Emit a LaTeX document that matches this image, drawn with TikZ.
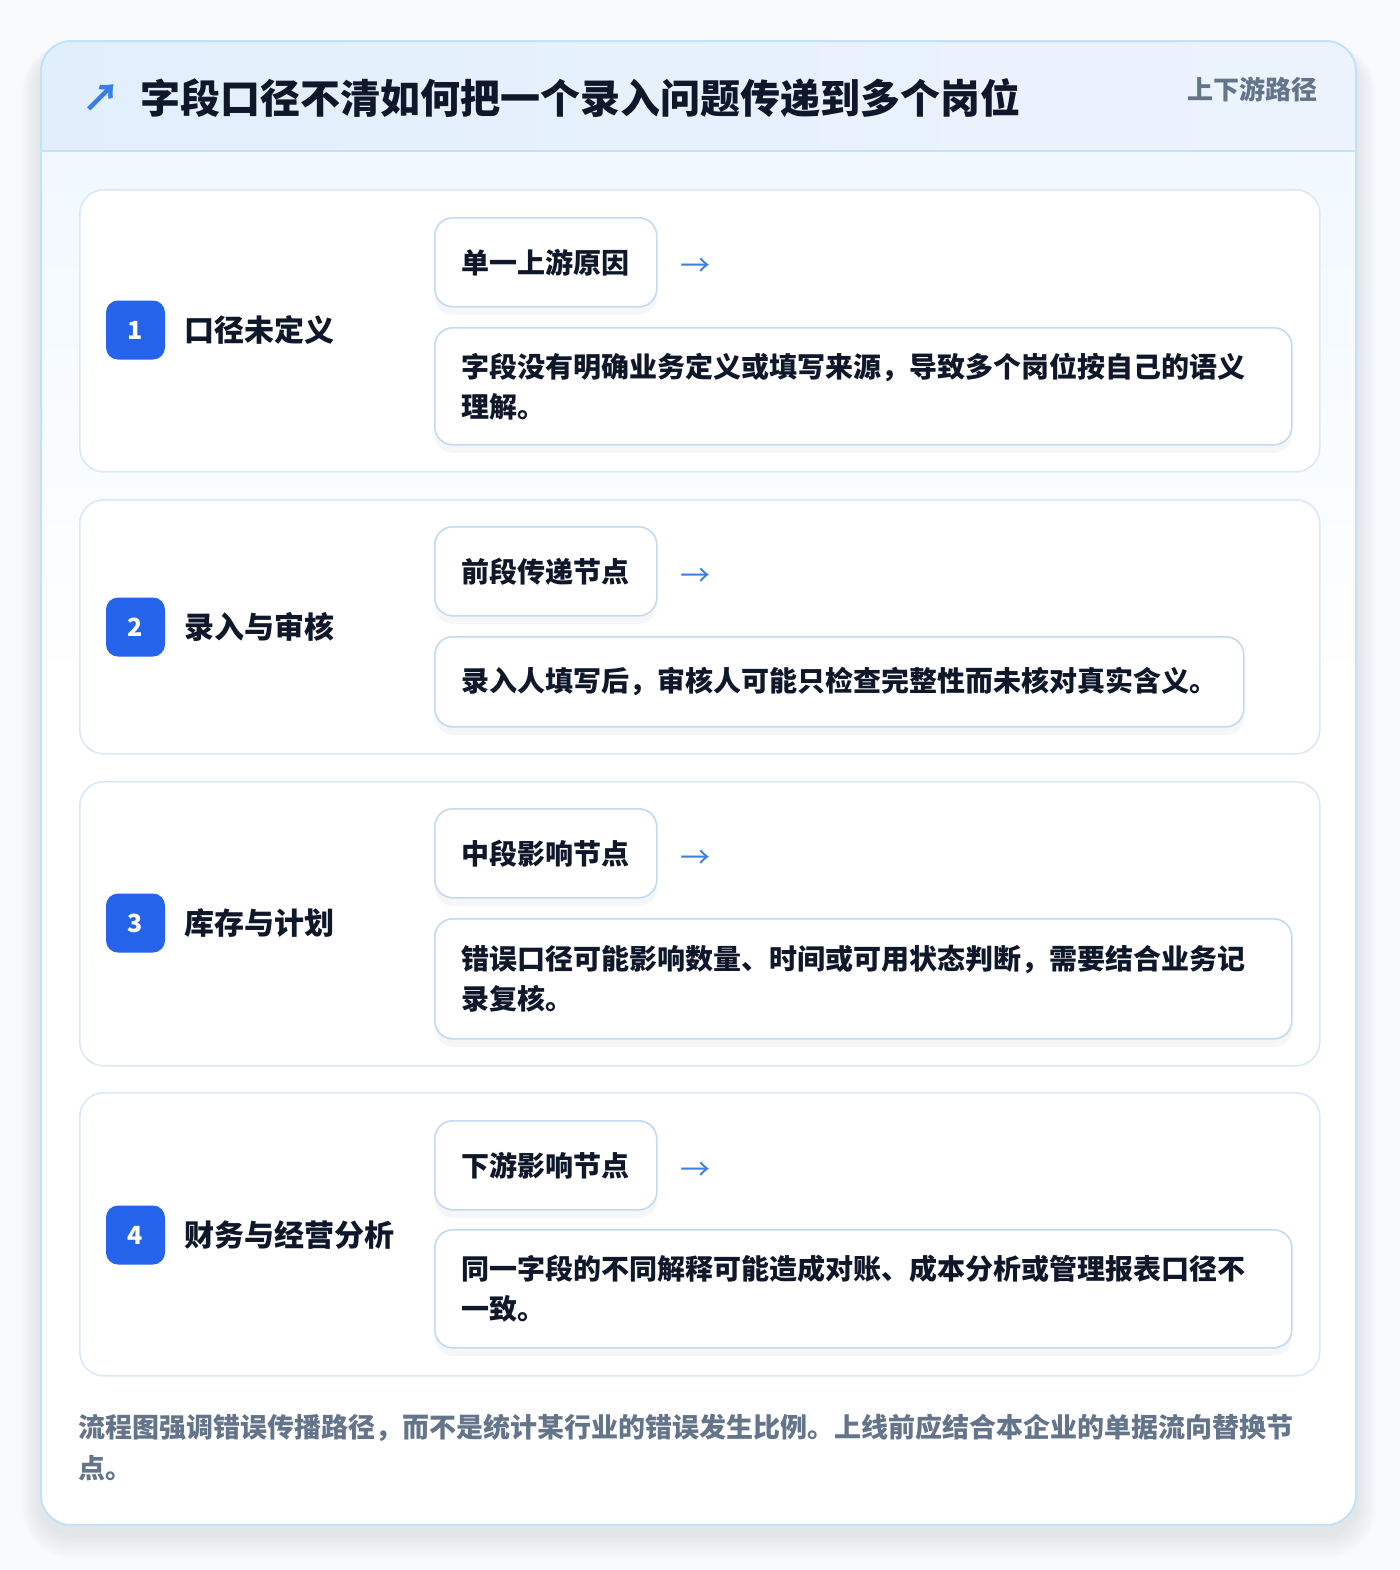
\documentclass[tikz,border=0pt]{standalone}
\usepackage{fontspec}
\setmainfont{Noto Sans CJK SC Black}
\newfontfamily\symfont{Noto Sans CJK SC}
\usetikzlibrary{positioning}
\definecolor{pagebg}{HTML}{F9FAFC}
\definecolor{cardline}{HTML}{C4E1F6}
\definecolor{headtop}{HTML}{E1EFFC}
\definecolor{headright}{HTML}{ECF3FD}
\definecolor{bodytop}{HTML}{F1F8FF}
\definecolor{rowline}{HTML}{D9E9F8}
\definecolor{boxline}{HTML}{C3DAF3}
\definecolor{badgeblue}{HTML}{2563EB}
\definecolor{arrowblue}{HTML}{3B7DE8}
\definecolor{inktext}{HTML}{0F172A}
\definecolor{mutetext}{HTML}{64748B}
\definecolor{shadowgray}{HTML}{475569}
\tikzset{
  rowbox/.style={draw=rowline, fill=white, line width=0.8pt, rounded corners=12pt,
    minimum width=620pt, anchor=north west, inner sep=0pt},
  badge/.style={fill=badgeblue, rounded corners=6pt, minimum size=29.5pt, inner sep=0pt,
    text=white, font=\fontsize{12.5}{12.5}\selectfont},
  stagename/.style={inner sep=0pt, text=inktext, font=\fontsize{15}{15}\selectfont},
  tagbox/.style={draw=boxline, fill=white, line width=0.8pt, rounded corners=9pt,
    minimum height=44.5pt, inner xsep=13.5pt, inner ysep=0pt, anchor=north west,
    text=inktext, font=\fontsize{14}{20}\selectfont,
    preaction={fill=shadowgray, fill opacity=0.05, transform canvas={yshift=-4pt}}},
  notebox/.style={tagbox, align=left},
  flowarrow/.style={inner sep=0pt, text=arrowblue, font=\symfont\fontsize{15}{15}\selectfont},
}
\begin{document}
\begin{tikzpicture}[x=0.5pt, y=-0.5pt]
  \useasboundingbox (0,0) rectangle (1400,1570);
  \fill[pagebg] (0,0) rectangle (1400,1570);
  % Card shadow
  \foreach \s in {1,...,10}
    \fill[shadowgray, opacity=0.012, rounded corners=15pt+\s pt]
      (41-2*\s,41-\s+12) rectangle (1356+2*\s,1525+2.5*\s+8);
  % Card
  \begin{scope}
    \clip[rounded corners=15pt] (41,41) rectangle (1356,1525);
    \fill[white] (41,41) rectangle (1356,1525);
    \shade[top color=bodytop, bottom color=white] (41,151) rectangle (1356,700);
    \shade[left color=headtop, right color=headright] (41,41) rectangle (1356,151);
    \draw[cardline, line width=0.8pt] (41,151) -- (1356,151);
  \end{scope}
  \draw[cardline, line width=1pt, rounded corners=15pt] (41,41) rectangle (1356,1525);
  % Header
  \node[inner sep=0pt, text=arrowblue, font=\fontsize{19}{19}\selectfont] (mark) at (102,98) {↗};
  \node[inner sep=0pt, anchor=west, text=inktext, font=\fontsize{20}{20}\selectfont] (title) at (140,98)
    {字段口径不清如何把一个录入问题传递到多个岗位};
  \node[inner sep=0pt, anchor=east, text=mutetext, font=\fontsize{13}{13}\selectfont] (tag) at (1318,89)
    {上下游路径};
  % Rows
  \node[rowbox, minimum height=141pt] (r1) at (79,189) {};
  \node[rowbox, minimum height=127pt] (r2) at (79,499) {};
  \node[rowbox, minimum height=142pt] (r3) at (79,781) {};
  \node[rowbox, minimum height=141.5pt] (r4) at (79,1092) {};
  % Stage 1
  \node[badge] (b1) at (135.5,330) {1};
  \node[stagename, right=9.5pt of b1] (n1) {口径未定义};
  \node[tagbox] (t1) at (434,217) {单一上游原因};
  \node[flowarrow] (a1) at (695,267) {→};
  \node[notebox, minimum height=58.5pt, text width=401.5pt] (d1) at (434,327)
    {字段没有明确业务定义或填写来源，导致多个岗位按自己的语义\\理解。};
  % Stage 2
  \node[badge] (b2) at (135.5,627) {2};
  \node[stagename, right=9.5pt of b2] (n2) {录入与审核};
  \node[tagbox] (t2) at (434,526) {前段传递节点};
  \node[flowarrow] (a2) at (695,577) {→};
  \node[notebox, minimum height=45pt, text width=377.5pt] (d2) at (434,636)
    {录入人填写后，审核人可能只检查完整性而未核对真实含义。};
  % Stage 3
  \node[badge] (b3) at (135.5,923) {3};
  \node[stagename, right=9.5pt of b3] (n3) {库存与计划};
  \node[tagbox] (t3) at (434,808) {中段影响节点};
  \node[flowarrow] (a3) at (695,859) {→};
  \node[notebox, minimum height=60pt, text width=401.5pt] (d3) at (434,918)
    {错误口径可能影响数量、时间或可用状态判断，需要结合业务记\\录复核。};
  % Stage 4
  \node[badge] (b4) at (135.5,1235) {4};
  \node[stagename, right=9.5pt of b4] (n4) {财务与经营分析};
  \node[tagbox] (t4) at (434,1120) {下游影响节点};
  \node[flowarrow] (a4) at (695,1171) {→};
  \node[notebox, minimum height=59pt, text width=401.5pt] (d4) at (434,1229)
    {同一字段的不同解释可能造成对账、成本分析或管理报表口径不\\一致。};
  % Footer
  \node[inner sep=0pt, anchor=west, align=left, text width=615pt, text=mutetext,
    font=\fontsize{13.5}{20.5}\selectfont] (foot) at (78,1447.5)
    {流程图强调错误传播路径，而不是统计某行业的错误发生比例。上线前应结合本企业的单据流向替换节\\点。};
\end{tikzpicture}
\end{document}
